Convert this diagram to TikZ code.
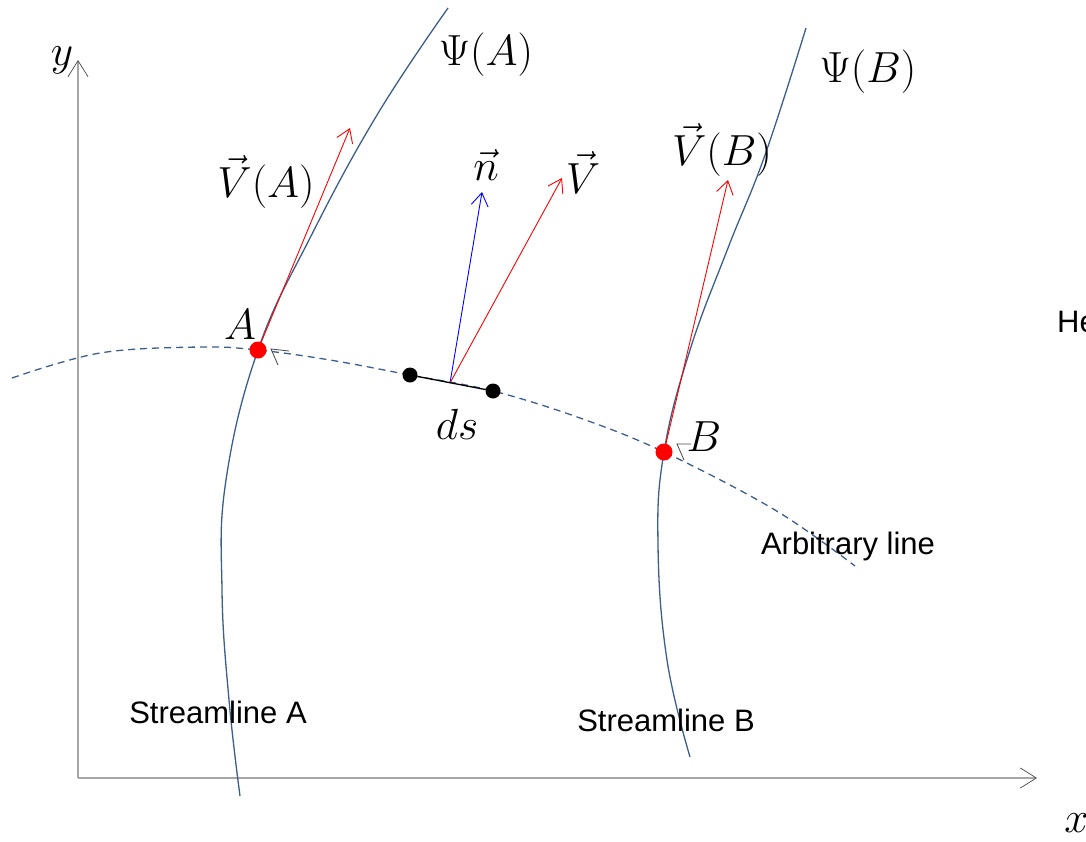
\documentclass[tikz,border=0pt]{standalone}
\usepackage{fontspec}
\setsansfont{Liberation Sans}
\usetikzlibrary{arrows.meta,calc}
\definecolor{strm}{RGB}{59,94,140}
\definecolor{axisgray}{RGB}{166,166,166}
\definecolor{tipgray}{RGB}{70,70,70}
\tikzset{
  axisline/.style={draw=axisgray, line width=2pt,
    -{Straight Barb[length=16pt,width=20pt,color=tipgray,line width=0.7pt]}},
  streamline/.style={draw=strm, line width=1.3pt},
  arbline/.style={draw=strm, line width=1.3pt, dash pattern=on 7pt off 5pt},
  vecarrow/.style={line width=0.9pt,
    -{Straight Barb[length=13pt,width=17pt,line width=0.9pt]}},
  mlab/.style={font=\Huge, scale=1.75, inner sep=0pt},
  slab/.style={font=\sffamily\fontsize{31}{37}\selectfont, inner sep=0pt},
  reddot/.style={circle, fill=red, minimum size=17pt, inner sep=0pt},
  blackdot/.style={circle, fill=black, minimum size=15pt, inner sep=0pt},
}
\begin{document}
\begin{tikzpicture}[x=1pt,y=-1pt]
\useasboundingbox (0,0) rectangle (1086,841);

% axes
\coordinate (O) at (78,778);
\coordinate (Ytop) at (78,60);
\coordinate (Xend) at (1037,778);
\draw[axisline] (O) -- (Ytop);
\draw[axisline] (O) -- (Xend);
\node[mlab] (ylab) at (62,60) {$y$};
\node[mlab, anchor=west] (xlab) at (1064,823) {$x$};

% streamlines
\draw[streamline] plot[smooth, tension=0.7] coordinates {
  (240,796) (229,700) (222,590) (226,480) (258,350)
  (310,238) (377,115) (448,8)};
\draw[streamline] plot[smooth, tension=0.7] coordinates {
  (690,757) (667,660) (658,545) (664,452) (690,350)
  (728,248) (765,155) (806,28)};

% arbitrary line
\draw[arbline] plot[smooth, tension=0.6] coordinates {
  (12,378) (100,353) (200,347) (258,350) (330,360) (410,375) (493,391)
  (580,418) (664,452) (775,510) (855,566)};

% points
\coordinate (A) at (258,350);
\coordinate (B) at (664,452);
\coordinate (M) at (450,383);
\coordinate (VAt) at (350,128);
\coordinate (Nt) at (482,192);
\coordinate (Vt) at (562,178);
\coordinate (VBt) at (728,180);

\draw[vecarrow, red] (A) -- (VAt);
\draw[vecarrow, blue] (M) -- (Nt);
\draw[vecarrow, red] (M) -- (Vt);
\draw[vecarrow, red] (B) -- (VBt);

\node[blackdot] (d1) at (410,375) {};
\node[blackdot] (d2) at (493,391) {};
\draw[black, line width=1.3pt] (d1) -- (d2);

% small open tips on arbitrary line
\draw[tipgray, line width=0.8pt] ($(A)+(31,1)$) -- ($(A)+(13,-1)$) -- ($(A)+(20,15)$);
\draw[tipgray, line width=0.8pt] ($(B)+(27,-8)$) -- ($(B)+(13,-8)$) -- ($(B)+(20,8)$);

\node[reddot] (Adot) at (A) {};
\node[reddot] (Bdot) at (B) {};

% labels
\node[mlab] (lA) at (240,325) {$A$};
\node[mlab] (lB) at (704,437) {$B$};
\node[mlab] (lds) at (457,424) {$ds$};
\node[mlab] (lPsiA) at (486,55) {$\Psi(A)$};
\node[mlab] (lPsiB) at (868,72) {$\Psi(B)$};
\node[mlab] (lVA) at (266,182) {$\vec{V}(A)$};
\node[mlab] (ln) at (486,165) {$\vec{n}$};
\node[mlab] (lV) at (583,172) {$\vec{V}$};
\node[mlab] (lVB) at (722,150) {$\vec{V}(B)$};

\node[slab] (arb) at (848,546) {Arbitrary line};
\node[slab] (slA) at (218,712) {Streamline A};
\node[slab] (slB) at (666,720) {Streamline B};
\node[slab, anchor=west] (he) at (1057,322) {He};
\end{tikzpicture}
\end{document}
